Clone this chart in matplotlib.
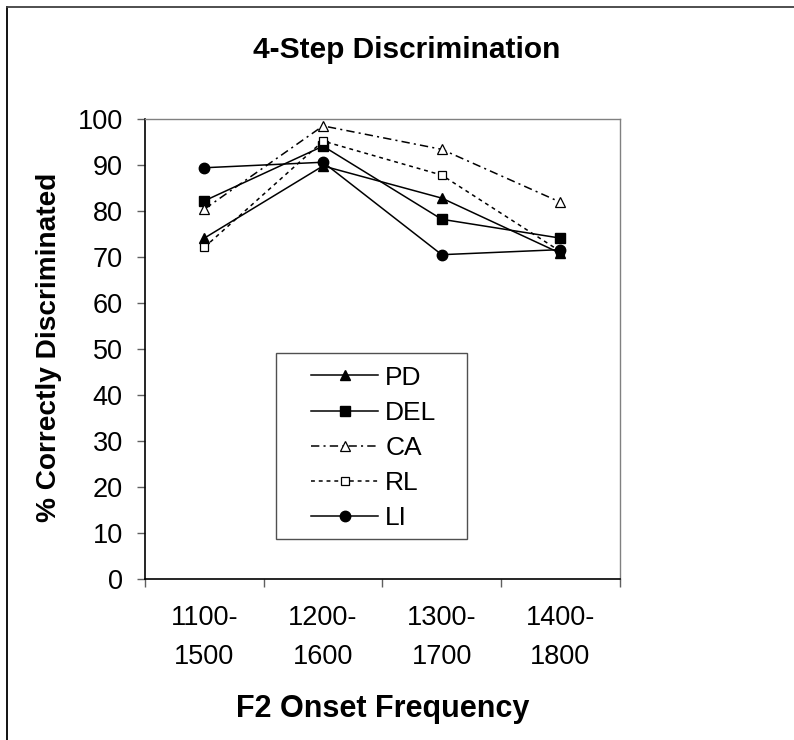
import matplotlib
matplotlib.use('Agg')
import matplotlib.pyplot as plt
import numpy as np
from matplotlib.lines import Line2D
from matplotlib.patches import Rectangle

plt.rcParams['font.family'] = ['Liberation Sans', 'DejaVu Sans']
plt.rcParams['lines.scale_dashes'] = False

categories = ["1100-\n1500", "1200-\n1600", "1300-\n1700", "1400-\n1800"]
pd_vals = [74.1, 89.8, 82.8, 70.8]
del_vals = [82.2, 94.1, 78.2, 74.1]
ca_vals = [80.4, 98.5, 93.4, 81.9]
rl_vals = [72.1, 95.2, 87.8, 71.2]
li_vals = [89.4, 90.6, 70.5, 71.6]

x = np.arange(len(categories)) + 0.5

fig = plt.figure(figsize=(7.94, 7.40), dpi=100)
ax = fig.add_axes([0.1826, 0.2176, 0.598, 0.6216])

lw = 1.1
ax.plot(x, pd_vals, color='black', lw=lw, marker='^', ms=7.8, mfc='black', mec='black', label='PD')
ax.plot(x, del_vals, color='black', lw=lw, marker='s', ms=7, mfc='black', mec='black', label='DEL')
ax.plot(x, ca_vals, color='black', lw=lw, dashes=(6, 3, 1.5, 3), marker='^', ms=7.8,
        mfc='white', mec='black', mew=0.9, label='CA')
ax.plot(x, rl_vals, color='black', lw=lw, dashes=(2.8, 2.8), marker='s', ms=5.5,
        mfc='white', mec='black', mew=0.9, label='RL')
ax.plot(x, li_vals, color='black', lw=lw, marker='o', ms=7.5, mfc='black', mec='black', label='LI')

ax.set_xlim(0, len(categories))
ax.set_ylim(0, 100)
ax.set_yticks(np.arange(0, 101, 10))
ax.set_xticks(np.arange(0, len(categories) + 1))
ax.set_xticklabels([])
ax.set_xticks(x, minor=True)
ax.set_xticklabels(categories, minor=True, fontsize=19.5, linespacing=1.62)
ax.tick_params(axis='x', which='major', direction='out', length=6, width=1, color='#606060')
ax.tick_params(axis='x', which='minor', length=0, pad=19)
ax.tick_params(axis='y', direction='out', length=6, width=1, color='#606060',
               labelsize=19.5, pad=10)

for side in ['top', 'right']:
    ax.spines[side].set_color('#808080')
    ax.spines[side].set_linewidth(1)
for side in ['left', 'bottom']:
    ax.spines[side].set_color('black')
    ax.spines[side].set_linewidth(1.2)

ax.set_xlabel('F2 Onset Frequency', fontsize=22, fontweight='bold', va='baseline')
ax.xaxis.set_label_coords(0.5, -0.3)
ax.set_ylabel('% Correctly Discriminated', fontsize=20.2, fontweight='bold')
ax.yaxis.set_label_coords(-0.175, 0.503)

fig.text(0.512, 1 - 58.3 / 740, '4-Step Discrimination', fontsize=21.5, fontweight='bold',
         ha='center', va='baseline')

leg = ax.legend(loc='center', bbox_to_anchor=(0.482, 0.285), fontsize=19,
                handlelength=2.54, handletextpad=0.27, borderpad=0.3,
                labelspacing=0.42, frameon=False, borderaxespad=0)
ax.add_patch(Rectangle((0.2758, 0.087), 0.678 - 0.2758, 0.4913 - 0.087,
                       transform=ax.transAxes, facecolor='white', edgecolor='#505050',
                       lw=1, zorder=4))
leg.set_zorder(5)

# outer frame (left and top edges only)
fig.add_artist(Line2D([7 / 794, 7 / 794], [0, 1 - 7 / 740], color='black', lw=1.3,
                      transform=fig.transFigure))
fig.add_artist(Line2D([7 / 794, 1], [1 - 7 / 740, 1 - 7 / 740], color='#404040', lw=1.3,
                      transform=fig.transFigure))

fig.savefig('out.png', dpi=100)
